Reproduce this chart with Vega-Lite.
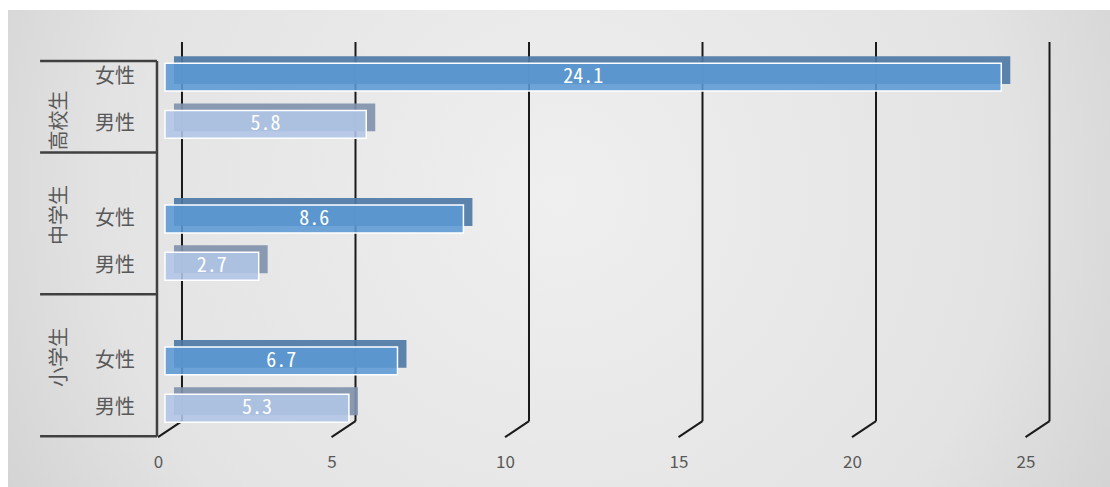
{
  "$schema": "https://vega.github.io/schema/vega-lite/v6.json",
  "autosize": {"type": "none"},
  "padding": {"left": 8, "top": 10, "right": 0, "bottom": 0},
  "width": 1102,
  "height": 477,
  "background": "white",
  "config": {
    "font": "Noto Sans CJK JP",
    "view": {
      "stroke": null,
      "fill": {
        "gradient": "radial",
        "x1": 0.5, "y1": 0.45, "r1": 0,
        "x2": 0.5, "y2": 0.45, "r2": 0.75,
        "stops": [
          {"offset": 0, "color": "#efefef"},
          {"offset": 0.55, "color": "#e3e3e3"},
          {"offset": 1, "color": "#c2c2c2"}
        ]
      }
    }
  },
  "datasets": {
    "bars": [
      {"school": "高校生", "gender": "女性", "key": "高校生|女性", "value": 24.1},
      {"school": "高校生", "gender": "男性", "key": "高校生|男性", "value": 5.8},
      {"school": "中学生", "gender": "女性", "key": "中学生|女性", "value": 8.6},
      {"school": "中学生", "gender": "男性", "key": "中学生|男性", "value": 2.7},
      {"school": "小学生", "gender": "女性", "key": "小学生|女性", "value": 6.7},
      {"school": "小学生", "gender": "男性", "key": "小学生|男性", "value": 5.3}
    ],
    "ticks": [{"v": 0}, {"v": 5}, {"v": 10}, {"v": 15}, {"v": 20}, {"v": 25}],
    "groups": [
      {"school": "高校生", "bottomKey": "高校生|男性", "labelKey": "高校生|男性"},
      {"school": "中学生", "bottomKey": "中学生|男性", "labelKey": "中学生|女性"},
      {"school": "小学生", "bottomKey": "小学生|男性", "labelKey": "小学生|女性"}
    ]
  },
  "resolve": {"scale": {"x": "independent"}},
  "layer": [
    {
      "layer": [
        {
          "data": {"name": "ticks"},
          "mark": {"type": "rule", "color": "#1a1a1a", "strokeWidth": 2, "xOffset": 17, "yOffset": -35, "y2Offset": 13},
          "encoding": {
            "x": {
              "field": "v", "type": "quantitative",
              "scale": {"domain": [-4.524, 27.233], "nice": false, "zero": false},
              "axis": {"values": [0, 5, 10, 15, 20, 25], "grid": false, "ticks": false, "domain": false, "title": null, "labelOffset": -7, "offset": -33, "labelPadding": 0, "labelFontSize": 17, "labelColor": "#595959", "labelFont": "Noto Sans CJK JP", "labelBaseline": "top"}
            },
            "y": {
              "datum": "高校生|女性", "type": "nominal",
              "scale": {"type": "band", "domain": ["top", "高校生|女性", "高校生|男性", "gap1", "中学生|女性", "中学生|男性", "gap2", "小学生|女性", "小学生|男性", "bottom"], "paddingInner": 0.41, "paddingOuter": 0.2474, "align": 0.25},
              "axis": null
            },
            "y2": {"datum": "小学生|男性"}
          }
        },
        {
          "data": {"name": "ticks"},
          "mark": {"type": "rule", "color": "#1a1a1a", "strokeWidth": 2, "xOffset": -7, "x2Offset": 17, "yOffset": 29, "y2Offset": 13},
          "encoding": {
            "x": {"field": "v", "type": "quantitative"},
            "x2": {"field": "v"},
            "y": {"datum": "小学生|男性", "type": "nominal"},
            "y2": {"datum": "小学生|男性"}
          }
        },
        {
          "data": {"values": [{}]},
          "mark": {"type": "rule", "color": "#404040", "strokeWidth": 2.5, "xOffset": -8, "yOffset": -16, "y2Offset": 28},
          "encoding": {
            "x": {"datum": 0, "type": "quantitative"},
            "y": {"datum": "高校生|女性", "type": "nominal"},
            "y2": {"datum": "小学生|男性"}
          }
        },
        {
          "data": {"values": [{}]},
          "mark": {"type": "rule", "color": "#404040", "strokeWidth": 2.5, "x2Offset": -8, "yOffset": -16},
          "encoding": {
            "x": {"datum": -3.6, "type": "quantitative"},
            "x2": {"datum": 0},
            "y": {"datum": "高校生|女性", "type": "nominal"}
          }
        },
        {
          "data": {"name": "groups"},
          "mark": {"type": "rule", "color": "#404040", "strokeWidth": 2.5, "x2Offset": -8, "yOffset": 28},
          "encoding": {
            "x": {"datum": -3.6, "type": "quantitative"},
            "x2": {"datum": 0},
            "y": {"field": "bottomKey", "type": "nominal"}
          }
        },
        {
          "data": {"name": "bars"},
          "mark": {"type": "bar", "xOffset": 9, "yOffset": -7, "fillOpacity": 0.92},
          "encoding": {
            "x": {"field": "value", "type": "quantitative"},
            "y": {"field": "key", "type": "nominal"},
            "color": {"condition": {"test": "datum.gender === '女性'", "value": "#4f7aa6"}, "value": "#8193ad"}
          }
        },
        {
          "data": {"name": "bars"},
          "mark": {"type": "bar", "stroke": "white", "strokeWidth": 1.5, "fillOpacity": 0.88},
          "encoding": {
            "x": {"field": "value", "type": "quantitative"},
            "y": {"field": "key", "type": "nominal"},
            "color": {"condition": {"test": "datum.gender === '女性'", "value": "#5b98d3"}, "value": "#b1c5e6"}
          }
        },
        {
          "data": {"name": "bars"},
          "mark": {"type": "text", "fontSize": 20, "color": "#595959", "align": "center", "baseline": "middle"},
          "encoding": {
            "x": {"datum": -1.44, "type": "quantitative"},
            "y": {"field": "key", "type": "nominal"},
            "text": {"field": "gender"}
          }
        },
        {
          "data": {"name": "groups"},
          "mark": {"type": "text", "fontSize": 20, "color": "#595959", "align": "center", "baseline": "middle", "angle": 270, "yOffset": -4},
          "encoding": {
            "x": {"datum": -3.03, "type": "quantitative"},
            "y": {"field": "labelKey", "type": "nominal"},
            "text": {"field": "school"}
          }
        }
      ]
    },
    {
      "data": {"name": "bars"},
      "mark": {"type": "text", "fontSize": 20, "color": "white", "align": "center", "baseline": "middle", "font": "'Noto Sans Mono CJK JP', 'DejaVu Sans Mono', monospace"},
      "encoding": {
        "x": {"field": "value", "type": "quantitative", "scale": {"domain": [-9.048, 54.466], "nice": false, "zero": false}, "axis": null},
        "y": {"field": "key", "type": "nominal"},
        "text": {"field": "value", "format": ".1f"}
      }
    }
  ]
}
